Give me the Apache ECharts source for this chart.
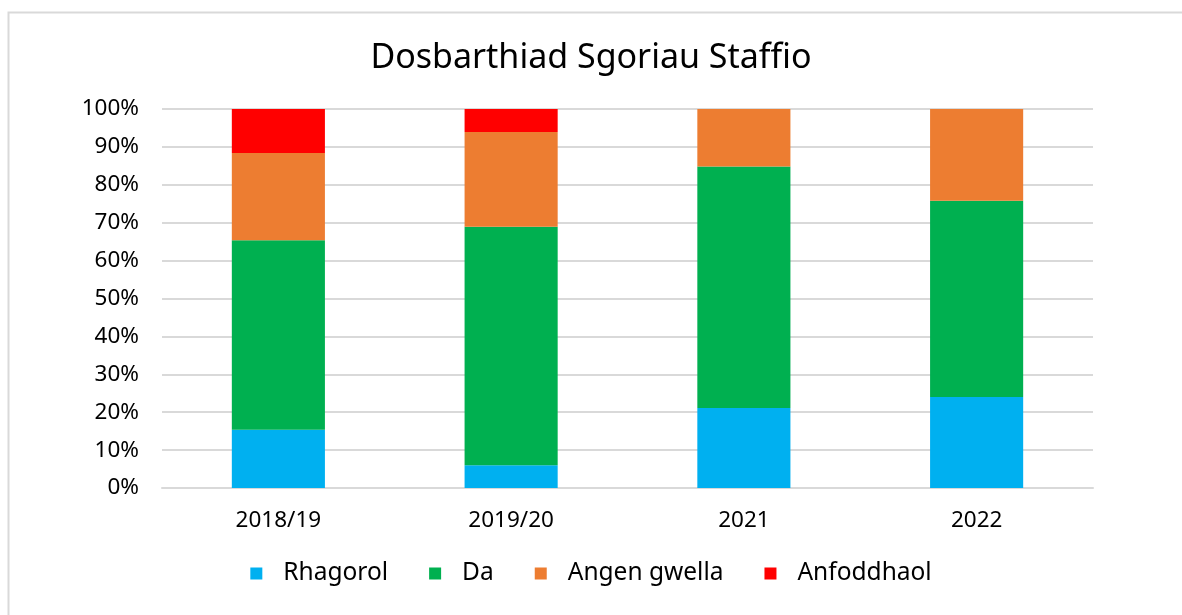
<!DOCTYPE html>
<html>
<head>
<meta charset="utf-8">
<script src="https://cdn.jsdelivr.net/npm/echarts@6/dist/echarts.min.js"></script>
<style>
  html, body { margin: 0; padding: 0; background: #fff; }
  #chart { width: 1182px; height: 615px; }
</style>
</head>
<body>
<div id="chart"></div>
<script>
  // data (percent of staff per category)
  const years = ['2018/19', '2019/20', '2021', '2022']
  const rhagorol = [15.4, 6.0, 21.1, 24.0]
  const da = [50.0, 62.9, 63.7, 51.8]
  const angenGwella = [23.0, 25.0, 15.2, 24.2]
  const anfoddhaol = [11.6, 6.1, 0, 0]

  const seriesNames = ['Rhagorol', 'Da', 'Angen gwella', 'Anfoddhaol']
  const seriesData = [rhagorol, da, angenGwella, anfoddhaol]
  const colors = ['#00B0F0', '#00B050', '#ED7D31', '#FF0000']

  const font = 'Noto Sans'
  const myChart = echarts.init(document.getElementById('chart'))

  const options = {
    animation: false,
    color: colors,
    title: {
      text: 'Dosbarthiad Sgoriau Staffio',
      left: 'center',
      top: 36,
      textStyle: { fontFamily: font, fontSize: 34, fontWeight: 'normal', color: '#000' }
    },
    // frame round the chart area (runs off right and bottom edges)
    graphic: [{
      type: 'rect',
      shape: { x: 8.5, y: 12.5, width: 1300, height: 800 },
      style: { fill: 'none', stroke: '#d9d9d9', lineWidth: 2 }
    }],
    legend: {
      data: seriesNames,
      bottom: 24,
      left: 598,
      left: 'center',
      icon: 'rect',
      itemWidth: 12,
      itemHeight: 12,
      itemGap: 41,
      textStyle: { fontFamily: font, fontSize: 24.5, color: '#000', padding: [0, 0, 0, 16] }
    },
    grid: {
      left: 162,
      right: 89,
      top: 109,
      bottom: 127
    },
    xAxis: {
      type: 'category',
      data: years,
      axisLine: { show: true, lineStyle: { color: '#d9d9d9', width: 2 } },
      axisTick: { show: false },
      axisLabel: { fontFamily: font, fontSize: 22.5, color: '#000', margin: 21 }
    },
    yAxis: {
      type: 'value',
      min: 0,
      max: 100,
      interval: 10,
      axisLine: { show: false },
      axisTick: { show: false },
      splitLine: { lineStyle: { color: '#d9d9d9', width: 2 } },
      axisLabel: { fontFamily: font, fontSize: 22.5, color: '#000', margin: 23, formatter: '{value}%' }
    },
    series: seriesNames.map((name, i) => ({
      name: name,
      type: 'bar',
      stack: 'total',
      barWidth: '40%',
      data: seriesData[i],
      itemStyle: { color: colors[i] }
    }))
  }
  myChart.setOption(options)
</script>
</body>
</html>
